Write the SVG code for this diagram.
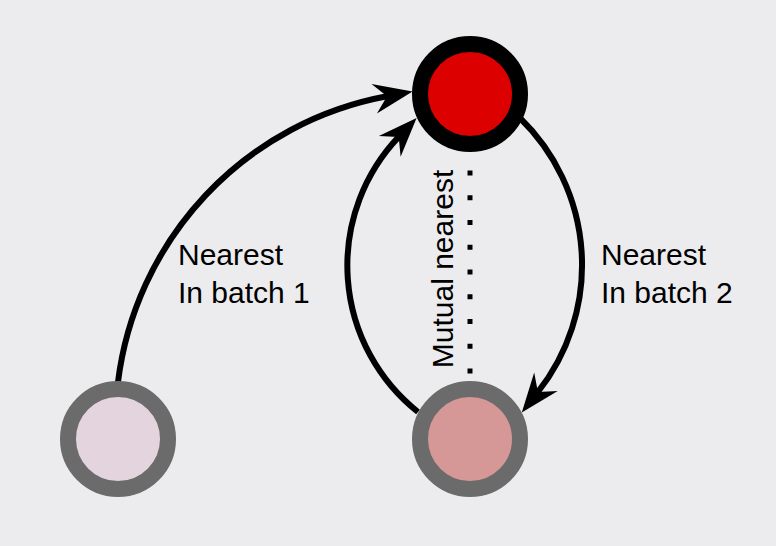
<svg xmlns="http://www.w3.org/2000/svg" width="776" height="546" viewBox="0 0 776 546">
<style>
.lbl{font-family:"Liberation Sans",Arial,sans-serif;font-size:30px;fill:#000}
.edge{fill:none;stroke:#000;stroke-width:6}
.node{stroke-width:16}
</style>
<defs>
<marker id="ah" markerUnits="userSpaceOnUse" markerWidth="42" markerHeight="34" viewBox="-40 -17 42 34" refX="-26" refY="0" orient="auto">
<path d="M0,0 L-39,-15 L-26,0 L-39,15 Z" fill="#000"/>
</marker>
</defs>
<rect width="776" height="546" fill="#ececee"/>
<g id="connectors">
<path class="edge" d="M118,382 A332,332 0 0 1 387,96.3" marker-end="url(#ah)"/>
<path class="edge" d="M418,412 A187,187 0 0 1 398.7,136.9" marker-end="url(#ah)"/>
<path class="edge" d="M520,118 A205,205 0 0 1 537.9,392" marker-end="url(#ah)"/>
<line x1="470" y1="170.5" x2="470" y2="374" stroke="#000" stroke-width="5" stroke-dasharray="5 19.75"/>
</g>
<g id="node-top">
<circle class="node" cx="470" cy="94" r="50" fill="#dd0000" stroke="#000"/>
</g>
<g id="node-bottom-left">
<circle class="node" cx="118" cy="439" r="50" fill="#e3d4dd" stroke="#6b6b6b"/>
</g>
<g id="node-bottom-right">
<circle class="node" cx="470" cy="439" r="50" fill="#d69797" stroke="#6b6b6b"/>
</g>
<g id="labels">
<text class="lbl" x="178" y="265">Nearest</text>
<text class="lbl" x="178" y="303">In batch 1</text>
<text class="lbl" x="601" y="265">Nearest</text>
<text class="lbl" x="601" y="303">In batch 2</text>
<text class="lbl" text-anchor="middle" transform="translate(453,269) rotate(-90)">Mutual nearest</text>
</g>
</svg>
